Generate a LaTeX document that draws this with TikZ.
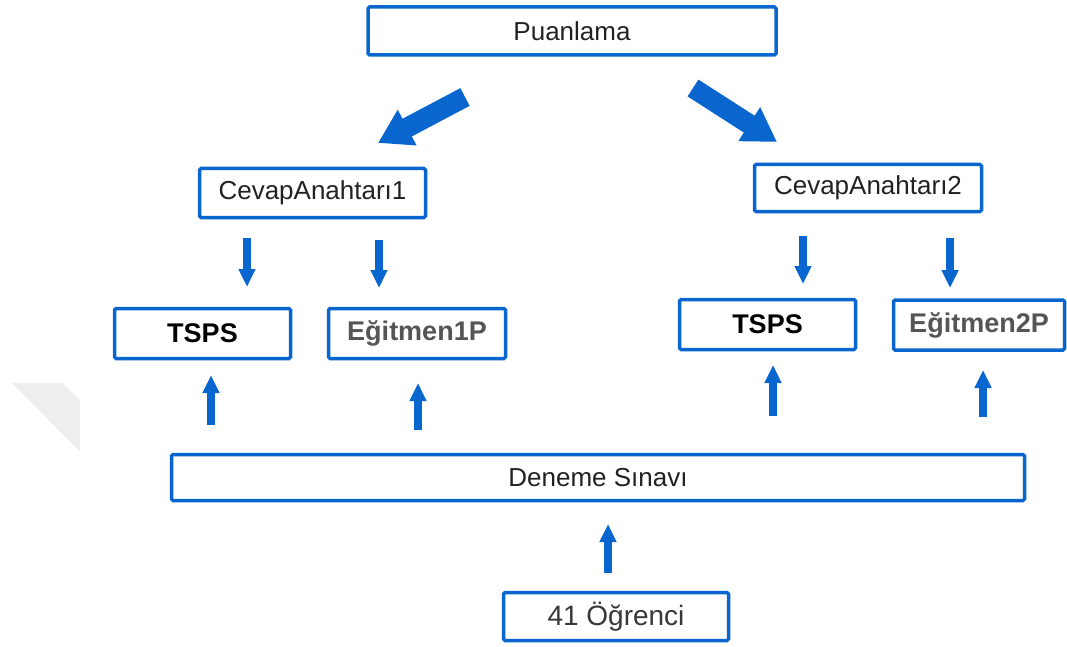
\documentclass[tikz,border=0pt]{standalone}
\usepackage{fontspec}
\setmainfont{Liberation Sans}
\usetikzlibrary{arrows.meta}
\definecolor{bl}{RGB}{8,102,206}
\definecolor{txt}{RGB}{34,34,34}
\definecolor{gtxt}{RGB}{85,85,85}
\definecolor{wm}{RGB}{238,238,238}
\begin{document}
\begin{tikzpicture}[x=1pt,y=-1pt,
  box/.style={draw=bl, line width=3.5pt, rounded corners=1.5pt, inner sep=0pt, fill=white, text=txt},
  reg/.style={font=\fontsize{26pt}{30pt}\selectfont},
  bld/.style={font=\fontsize{27pt}{31pt}\selectfont\bfseries},
  bigarrow/.style={draw=bl, line width=20pt, -{Triangle[length=33pt,width=38pt]}},
  smallarrow/.style={draw=bl, line width=8pt, -{Triangle[length=18pt,width=16pt]}}]
\useasboundingbox (0,0) rectangle (1067,647);
\fill[wm] (12,383) -- (62,383) -- (80,400) -- (80,452) -- cycle;

\node[box, reg, minimum width=408pt, minimum height=48pt] (P) at (572,31) {Puanlama};
\node[box, reg, minimum width=226pt, minimum height=49pt] (C1) at (312.5,193) {CevapAnahtarı1};
\node[box, reg, minimum width=227pt, minimum height=47pt] (C2) at (868,188) {CevapAnahtarı2};
\node[box, bld, text=black, minimum width=176pt, minimum height=50pt] (T1) at (202.5,333.5) {TSPS};
\node[box, bld, text=gtxt, minimum width=177pt, minimum height=50pt] (E1) at (417,333.5) {Eğitmen1P};
\node[box, bld, text=black, minimum width=176pt, minimum height=50pt] (T2) at (767.5,324.5) {TSPS};
\node[box, bld, text=gtxt, minimum width=171pt, minimum height=50pt] (E2) at (979,325) {Eğitmen2P};
\node[box, reg, minimum width=853pt, minimum height=46pt] (D) at (598,477.5) {Deneme Sınavı};
\node[box, font=\fontsize{28pt}{32pt}\selectfont, text=txt!90, minimum width=225pt, minimum height=48pt] (O) at (616,616.5) {41 Öğrenci};

% big arrows
\coordinate (a1s) at (465,97);  \coordinate (a1e) at (378,143);
\coordinate (a2s) at (693,88);  \coordinate (a2e) at (777,142);
\draw[bigarrow] (a1s) -- (a1e);
\draw[bigarrow] (a2s) -- (a2e);

% small down arrows
\coordinate (d1s) at (247,238); \coordinate (d1e) at (247,287);
\coordinate (d2s) at (379,240); \coordinate (d2e) at (379,288);
\coordinate (d3s) at (803,236); \coordinate (d3e) at (803,284);
\coordinate (d4s) at (950,238); \coordinate (d4e) at (950,288);
\draw[smallarrow] (d1s) -- (d1e);
\draw[smallarrow] (d2s) -- (d2e);
\draw[smallarrow] (d3s) -- (d3e);
\draw[smallarrow] (d4s) -- (d4e);

% up arrows
\coordinate (u1s) at (211,425); \coordinate (u1e) at (211,375);
\coordinate (u2s) at (418,430); \coordinate (u2e) at (418,383);
\coordinate (u3s) at (773,416); \coordinate (u3e) at (773,365);
\coordinate (u4s) at (983,417); \coordinate (u4e) at (983,370);
\coordinate (u5s) at (608,573); \coordinate (u5e) at (608,524);
\draw[smallarrow] (u1s) -- (u1e);
\draw[smallarrow] (u2s) -- (u2e);
\draw[smallarrow] (u3s) -- (u3e);
\draw[smallarrow] (u4s) -- (u4e);
\draw[smallarrow] (u5s) -- (u5e);
\end{tikzpicture}
\end{document}
